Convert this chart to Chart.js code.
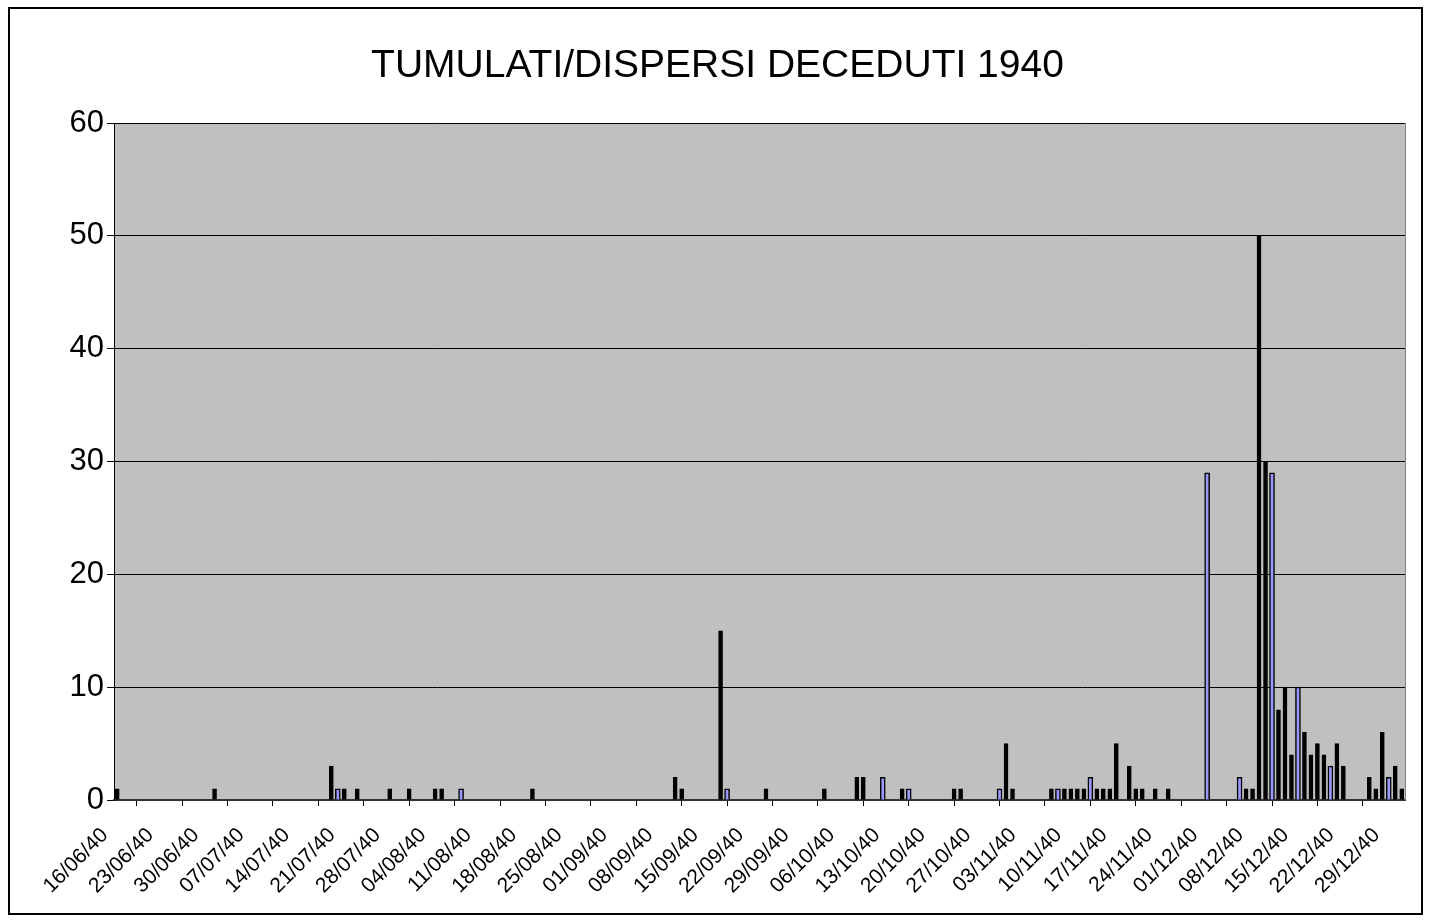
<!DOCTYPE html>
<html>
<head>
<meta charset="utf-8">
<title>Tumulati/Dispersi deceduti 1940</title>
<script src="https://cdn.jsdelivr.net/npm/chart.js@4.4.1/dist/chart.umd.min.js"></script>
<style>
    html, body { margin: 0; padding: 0; background: #fff; }
    #wrap { width: 1431px; height: 921px; position: relative; }
</style>
</head>
<body>
<div id="wrap"><canvas id="chart"></canvas></div>
<script>
// dates (dd/mm/yy) and counts
var datesA = ['16/06/40', '01/07/40', '19/07/40', '21/07/40', '23/07/40', '28/07/40', '31/07/40',
    '04/08/40', '05/08/40', '19/08/40', '10/09/40', '11/09/40', '17/09/40', '24/09/40',
    '03/10/40', '08/10/40', '09/10/40', '15/10/40', '23/10/40', '24/10/40', '31/10/40',
    '01/11/40', '07/11/40', '09/11/40', '10/11/40', '11/11/40', '12/11/40', '14/11/40',
    '15/11/40', '16/11/40', '17/11/40', '19/11/40', '20/11/40', '21/11/40', '23/11/40',
    '25/11/40', '07/12/40', '08/12/40', '09/12/40', '10/12/40', '12/12/40', '13/12/40',
    '14/12/40', '16/12/40', '17/12/40', '18/12/40', '19/12/40', '21/12/40', '22/12/40',
    '26/12/40', '27/12/40', '28/12/40', '30/12/40', '31/12/40'];
var valuesA = [1, 1, 3, 1, 1, 1, 1,
    1, 1, 1, 2, 1, 15, 1,
    1, 2, 2, 1, 1, 1, 5,
    1, 1, 1, 1, 1, 1, 1,
    1, 1, 5, 3, 1, 1, 1,
    1, 1, 1, 50, 30, 8, 10,
    4, 6, 4, 5, 4, 5, 3,
    2, 1, 6, 3, 1];

var datesB = ['20/07/40', '08/08/40', '18/09/40', '12/10/40', '16/10/40', '30/10/40', '08/11/40',
    '13/11/40', '01/12/40', '06/12/40', '11/12/40', '15/12/40', '20/12/40', '29/12/40'];
var valuesB = [1, 1, 1, 2, 1, 1, 1,
    2, 29, 2, 29, 10, 3, 2];

var weekLabels = ['16/06/40', '23/06/40', '30/06/40', '07/07/40', '14/07/40', '21/07/40', '28/07/40',
    '04/08/40', '11/08/40', '18/08/40', '25/08/40', '01/09/40', '08/09/40', '15/09/40',
    '22/09/40', '29/09/40', '06/10/40', '13/10/40', '20/10/40', '27/10/40', '03/11/40',
    '10/11/40', '17/11/40', '24/11/40', '01/12/40', '08/12/40', '15/12/40', '22/12/40',
    '29/12/40'];

var firstDay = '16/06/40';
var lastDay = '31/12/40';

var yTicks = [0, 10, 20, 30, 40, 50, 60];

var titleText = 'TUMULATI/DISPERSI DECEDUTI 1940';

function toUTC(s) {
    var p = s.split('/');
    return Date.UTC(1900 + Number(p[2]), Number(p[1]) - 1, Number(p[0]));
}

function dayIndex(s) {
    return Math.round((toUTC(s) - toUTC(firstDay)) / 86400000);
}

function points(dates, values) {
    return dates.map(function (d, i) {
        return { x: dayIndex(d) + 0.5, y: values[i] };
    });
}

// grey plot area, outer frame and the title centred on the whole picture
var frame = {
    id: 'frame',
    beforeDraw: function (chart) {
        var ctx = chart.ctx;
        var a = chart.chartArea;
        ctx.save();
        ctx.fillStyle = '#fff';
        ctx.fillRect(0, 0, chart.width, chart.height);
        ctx.fillStyle = '#c0c0c0';
        ctx.fillRect(a.left, a.top, a.right - a.left, a.bottom - a.top);
        ctx.restore();
    },
    afterDraw: function (chart) {
        var ctx = chart.ctx;
        var a = chart.chartArea;
        ctx.save();
        ctx.strokeStyle = '#808080';
        ctx.lineWidth = 1;
        ctx.beginPath();
        ctx.moveTo(a.right + 0.5, a.top);
        ctx.lineTo(a.right + 0.5, a.bottom);
        ctx.stroke();
        ctx.strokeStyle = '#000';
        ctx.lineWidth = 2;
        ctx.strokeRect(9, 8, 1413, 906);
        ctx.fillStyle = '#000';
        ctx.font = "39px 'Liberation Sans', Arial, sans-serif";
        ctx.textAlign = 'center';
        ctx.textBaseline = 'alphabetic';
        ctx.fillText(titleText, chart.width / 2 + 2, 77);
        ctx.restore();
    }
};

Chart.defaults.font.family = "'Liberation Sans', Arial, sans-serif";
Chart.defaults.color = '#000';

new Chart(document.getElementById('chart').getContext('2d'), {
    type: 'bar',
    data: {
        datasets: [{
            data: points(datesA, valuesA),
            backgroundColor: '#000',
            borderColor: '#000',
            borderWidth: 1,
            barThickness: 4,
            grouped: false
        }, {
            data: points(datesB, valuesB),
            backgroundColor: '#9999ff',
            borderColor: '#000',
            borderWidth: 1.5,
            barThickness: 5,
            grouped: false
        }]
    },
    options: {
        responsive: true,
        maintainAspectRatio: false,
        animation: false,
        layout: { padding: { left: 0, right: 26, top: 123, bottom: 0 } },
        plugins: {
            legend: { display: false },
            tooltip: { enabled: false },
            title: { display: false }
        },
        scales: {
            x: {
                type: 'linear',
                offset: false,
                min: 0,
                max: dayIndex(lastDay) + 1,
                afterBuildTicks: function (scale) {
                    scale.ticks = weekLabels.map(function (l) { return { value: dayIndex(l) }; });
                },
                afterFit: function (scale) { scale.height = 121; },
                ticks: {
                    autoSkip: false,
                    minRotation: 45,
                    maxRotation: 45,
                    padding: 17,
                    labelOffset: -9,
                    color: '#000',
                    font: { size: 21 },
                    callback: function (v, i) { return weekLabels[i]; }
                },
                grid: {
                    display: true,
                    drawOnChartArea: false,
                    color: '#000',
                    tickColor: '#000',
                    tickLength: 6
                },
                border: { display: true, color: '#333', width: 2 }
            },
            y: {
                min: 0,
                max: 60,
                afterBuildTicks: function (scale) {
                    scale.ticks = yTicks.map(function (v) { return { value: v }; });
                },
                afterFit: function (scale) { scale.width = 114; },
                ticks: {
                    padding: 3,
                    color: '#000',
                    font: { size: 31 }
                },
                grid: {
                    color: '#000',
                    lineWidth: 1,
                    tickColor: '#000',
                    tickLength: 7
                },
                border: { display: true, color: '#000', width: 1 }
            }
        }
    },
    plugins: [frame]
});
</script>
</body>
</html>
